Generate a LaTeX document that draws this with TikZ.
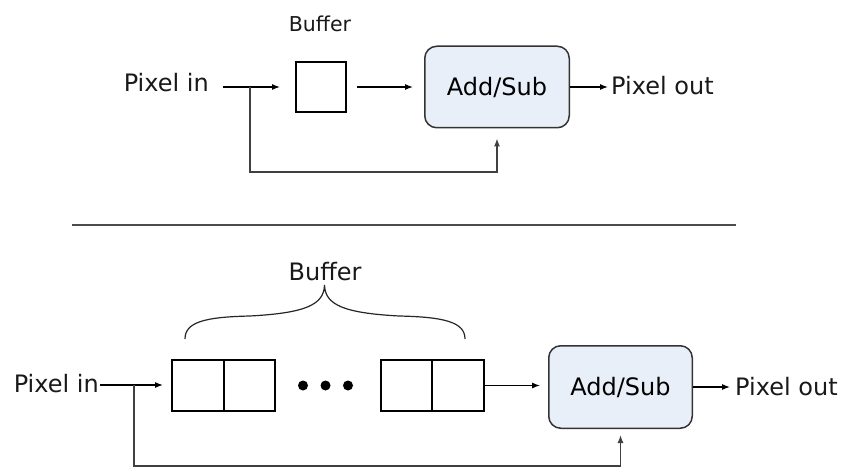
\documentclass[tikz,border=0pt]{standalone}
\usepackage{fontspec}
\setmainfont{DejaVu Sans}
\usetikzlibrary{arrows.meta}
\definecolor{unitfill}{HTML}{E9EFF9}
\definecolor{inkgrey}{HTML}{333333}
\tikzset{
  lbl/.style={inner sep=0pt, font=\fontsize{24}{28}\selectfont, text=black!90},
  smalllbl/.style={inner sep=0pt, font=\fontsize{20.5}{24}\selectfont, text=black!90},
  cell/.style={draw=black, line width=2pt, minimum width=51.5pt, minimum height=51pt, inner sep=0pt},
  unit/.style={draw=inkgrey, line width=1.5pt, fill=unitfill, rounded corners=12pt,
               inner sep=0pt, font=\fontsize{24}{28}\selectfont},
  arr/.style={line width=1.1pt, -{Latex[length=8pt,width=6pt]}},
  fb/.style={line width=1.2pt, draw=black!75, -{Latex[length=8pt,width=6pt]}},
  dot/.style={circle, fill=black, inner sep=0pt, minimum size=10pt}
}
\begin{document}
\begin{tikzpicture}[x=1pt,y=-1pt]
\useasboundingbox (0,0) rectangle (844,468);

% ---- single-pixel buffer ----
\node[lbl, anchor=base east] (pin1) at (209,92) {Pixel in};
\node[cell, minimum width=50pt, minimum height=50pt] (buf1) at (321,87) {};
\node[smalllbl, anchor=base] (blbl1) at (320,32) {Buffer};
\node[unit, minimum width=144.5pt, minimum height=81.5pt] (as1) at (497,87) {Add/Sub};
\node[lbl, anchor=base west] (pout1) at (611,95) {Pixel out};
\coordinate (in1) at (223,87);
\coordinate (sp1) at (250,87);
\coordinate (low1) at (0,172);

\draw[arr, shorten >=15pt] (in1) -- (buf1.west);
\draw[arr, shorten <=10pt, shorten >=11pt] (buf1.east) -- (as1.west);
\draw[arr, shorten >=3pt] (as1.east) -- (pout1.west |- as1.east);
\draw[fb, shorten >=10pt] (sp1) -- (sp1 |- low1) -| (as1.south);

% ---- separator ----
\draw[line width=1.3pt, black!70] (72,225) -- (736,225);

% ---- line buffer ----
\node[lbl, anchor=base east] (pin2) at (99,392) {Pixel in};
\node[cell] (c1) at (197.75,385.5) {};
\node[cell] (c2) at (249.25,385.5) {};
\node[cell] (c3) at (406.25,385.5) {};
\node[cell] (c4) at (457.75,385.5) {};
\node[dot] (d1) at (303,385.5) {};
\node[dot] (d2) at (325.5,385.5) {};
\node[dot] (d3) at (348,385.5) {};
\node[unit, minimum width=143.5pt, minimum height=82.5pt] (as2) at (620.5,387) {Add/Sub};
\node[lbl, anchor=base west] (pout2) at (735,395) {Pixel out};
\node[lbl, anchor=base] (blbl2) at (325,280) {Buffer};
\coordinate (in2) at (100,385);
\coordinate (sp2) at (134,385);
\coordinate (low2) at (0,466);

\draw[arr, shorten >=8pt] (in2) -- (c1.west |- in2);
\draw[arr, shorten >=8pt] (c4.east) -- (as2.west |- c4.east);
\draw[arr, shorten >=5pt] (as2.east) -- (pout2.west |- as2.east);
\draw[fb, shorten >=6pt] (sp2) -- (sp2 |- low2) -| (as2.south);

% curly brace over the buffer cells
\draw[line width=1.2pt, black!85]
  (185,339) .. controls (185,322) and (205,317) .. (250,316)
            .. controls (305,313) and (324,305) .. (324.5,285)
            .. controls (325,305) and (344,313) .. (399,316)
            .. controls (444,317) and (465,322) .. (465,339);
\end{tikzpicture}
\end{document}
